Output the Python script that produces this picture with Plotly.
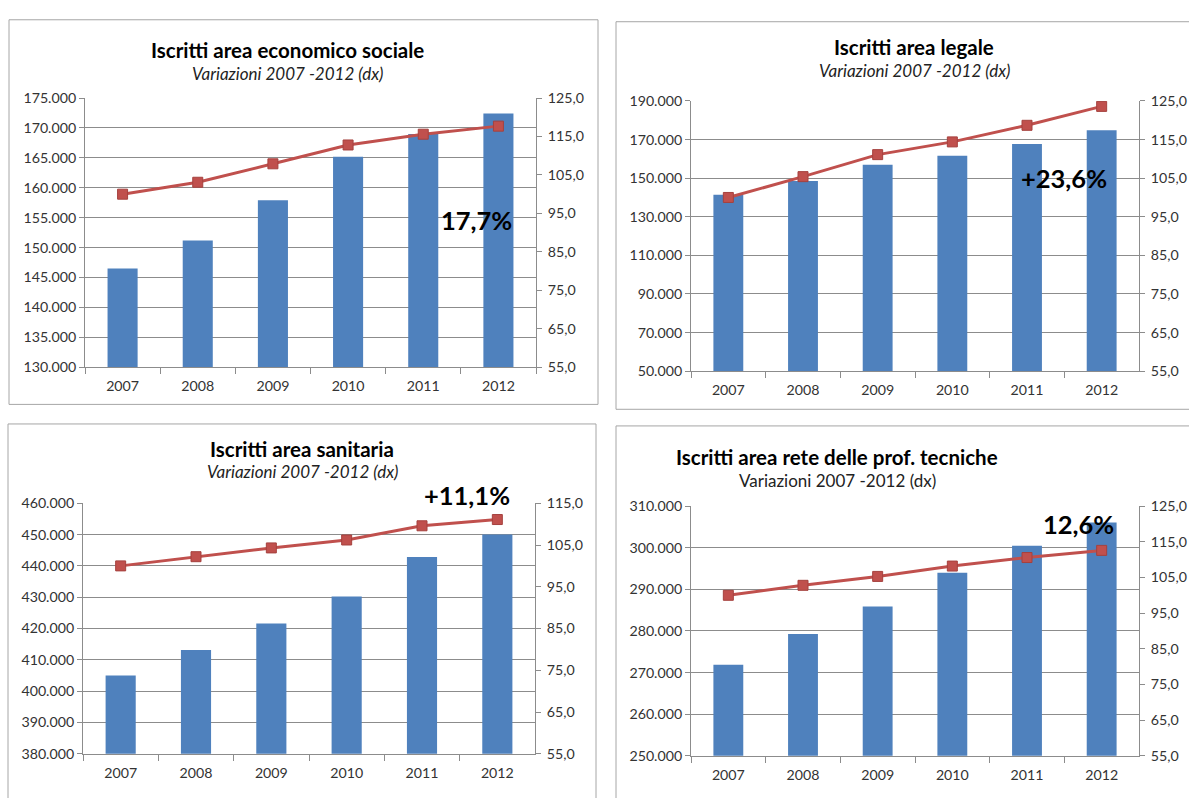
import plotly.graph_objects as go

W, H = 1189, 798

years = ["2007", "2008", "2009", "2010", "2011", "2012"]

titoli = [
    "Iscritti area economico sociale",
    "Iscritti area legale",
    "Iscritti area sanitaria",
    "Iscritti area rete delle prof. tecniche",
]
sottotitolo = "Variazioni 2007 -2012 (dx)"

# Iscritti (asse sinistro, barre) e indice 2007=100 (asse destro, linea)
iscritti_eco = [146500, 151200, 157900, 165200, 169000, 172400]
indice_eco = [100.0, 103.1, 107.9, 112.8, 115.6, 117.7]

iscritti_leg = [141400, 148600, 156900, 161600, 167700, 174800]
indice_leg = [100.0, 105.4, 111.1, 114.4, 118.7, 123.6]

iscritti_san = [405000, 413100, 421600, 430200, 442800, 450000]
indice_san = [100.0, 102.2, 104.3, 106.2, 109.6, 111.1]

iscritti_tec = [271900, 279300, 285900, 294000, 300500, 306100]
indice_tec = [100.0, 102.8, 105.3, 108.2, 110.6, 112.6]

# Scale degli assi (min, max, passo)
scala_sx = [(130000, 175000, 5000), (50000, 190000, 20000),
            (380000, 460000, 10000), (250000, 310000, 10000)]
scala_dx = [(55, 125, 10), (55, 125, 10), (55, 115, 10), (55, 125, 10)]
segno_var = ["", "+", "+", ""]

serie = [(iscritti_eco, indice_eco), (iscritti_leg, indice_leg),
         (iscritti_san, indice_san), (iscritti_tec, indice_tec)]

# Layout in pixel: area del grafico (x0, x1, y_top, y_bottom)
aree = [(85, 536, 91, 366), (691, 1139, 94, 370),
        (83, 535, 505, 761), (691, 1139, 508, 763)]
cornici = [(9, 598, 11, 404), (616, 1260, 13, 409),
           (8, 596, 424, 900), (616, 1260, 426, 900)]
pos_titolo = [(287, 42, 66), (914, 39, 63), (302, 450, 473), (837, 458, 482)]
sub_italic = [True, True, True, False]
pos_var = [(476, 216), (1064, 173), (467, 497), (1078, 526)]

FONT = "Lato, 'Open Sans', sans-serif"
BLU = "#4F81BD"
ROSSO = "#C0504D"
GRIGIO = "#8C8C8C"
TESTO = "#333333"
TICK = 14.2


def px(x):
    return x / W


def py(y):
    return 1 - y / H


fig = go.Figure()
layout = dict(
    width=W, height=H, autosize=False,
    margin=dict(l=0, r=0, t=0, b=0),
    paper_bgcolor="white", plot_bgcolor="white",
    separators=",.",
    showlegend=False,
    bargap=0.6,
    font=dict(family=FONT, size=TICK, color=TESTO),
    shapes=[], annotations=[],
)

for i, ((barre, linea), (x0, x1, yt, yb)) in enumerate(zip(serie, aree)):
    xid = "x" if i == 0 else f"x{i + 1}"
    yl = "y" if i == 0 else f"y{2 * i + 1}"
    yr = f"y{2 * i + 2}"
    xkey = "xaxis" if i == 0 else f"xaxis{i + 1}"
    ylkey = "yaxis" if i == 0 else f"yaxis{2 * i + 1}"
    yrkey = f"yaxis{2 * i + 2}"

    fig.add_trace(go.Bar(x=years, y=barre, xaxis=xid, yaxis=yl,
                         marker=dict(color=BLU, line=dict(width=0)),
                         hoverinfo="skip"))
    fig.add_trace(go.Scatter(x=years, y=linea, xaxis=xid, yaxis=yr,
                             mode="lines+markers",
                             line=dict(color=ROSSO, width=3),
                             marker=dict(symbol="square", size=10, color=ROSSO,
                                         line=dict(color="#A5413E", width=1)),
                             hoverinfo="skip"))

    lo, hi, st = scala_sx[i]
    rlo, rhi, rst = scala_dx[i]
    layout[xkey] = dict(
        domain=[px(x0), px(x1)], anchor=yl, type="category",
        tickson="boundaries", ticks="outside", ticklen=6, tickcolor=GRIGIO,
        showline=True, linecolor=GRIGIO, linewidth=1, showgrid=False,
        ticklabelstandoff=6,
        tickfont=dict(size=TICK, color=TESTO), fixedrange=True,
    )
    layout[ylkey] = dict(
        domain=[py(yb), py(yt)], anchor=xid, range=[lo, hi],
        tick0=lo, dtick=st, tickformat=",d",
        showgrid=True, gridcolor=GRIGIO, gridwidth=1,
        showline=True, linecolor=GRIGIO, linewidth=1,
        ticks="outside", ticklen=5, tickcolor=GRIGIO,
        zeroline=False, tickfont=dict(size=TICK, color=TESTO), fixedrange=True,
    )
    layout[yrkey] = dict(
        overlaying=yl, side="right", anchor=xid, range=[rlo, rhi],
        tick0=rlo, dtick=rst, tickformat=".1f",
        showgrid=False, showline=True, linecolor=GRIGIO, linewidth=1,
        ticks="outside", ticklen=5, tickcolor=GRIGIO,
        ticklabelstandoff=3,
        zeroline=False, tickfont=dict(size=TICK, color=TESTO), fixedrange=True,
    )

    # Cornice del pannello
    cx0, cx1, cy0, cy1 = cornici[i]
    layout["shapes"].append(dict(
        type="rect", xref="paper", yref="paper",
        x0=px(cx0), x1=px(cx1), y0=py(cy1), y1=py(cy0),
        line=dict(color="#A6A6A6", width=1), fillcolor="rgba(0,0,0,0)",
        layer="below",
    ))

    # Titolo e sottotitolo
    tx, ty, sy = pos_titolo[i]
    layout["annotations"].append(dict(
        x=px(tx), y=py(ty), xref="paper", yref="paper", showarrow=False,
        xanchor="center", yanchor="middle",
        text=f"<b>{titoli[i]}</b>",
        font=dict(family=FONT, size=20.5, color="black"),
    ))
    sub = f"<i>{sottotitolo}</i>" if sub_italic[i] else sottotitolo
    layout["annotations"].append(dict(
        x=px(tx), y=py(sy), xref="paper", yref="paper", showarrow=False,
        xanchor="center", yanchor="middle", text=sub,
        font=dict(family=FONT, size=17, color="#222222"),
    ))

    # Variazione 2007-2012 dall'indice finale
    var = linea[-1] - linea[0]
    etichetta = segno_var[i] + f"{var:.1f}".replace(".", ",") + "%"
    vx, vy = pos_var[i]
    layout["annotations"].append(dict(
        x=px(vx), y=py(vy), xref="paper", yref="paper", showarrow=False,
        xanchor="center", yanchor="middle", text=f"<b>{etichetta}</b>",
        font=dict(family=FONT, size=25.5, color="black"),
    ))

fig.update_layout(**layout)
fig.write_html("out.html")
